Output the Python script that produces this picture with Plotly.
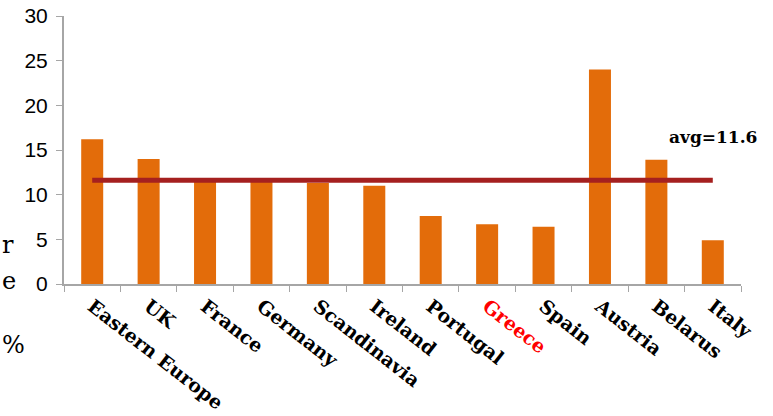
import plotly.graph_objects as go

categories = ["Eastern Europe", "UK", "France", "Germany", "Scandinavia", "Ireland",
              "Portugal", "Greece", "Spain", "Austria", "Belarus", "Italy"]
values = [16.2, 14.0, 11.7, 11.6, 11.3, 11.0, 7.6, 6.7, 6.4, 24.0, 13.9, 4.9]
avg_value = 11.6
avg_label = "avg=11.6"
y_ticks = [0, 5, 10, 15, 20, 25, 30]

ticktext = [f"<span style='color:#FF0000'>{c}</span>" if c == "Greece" else c for c in categories]

W, H = 773, 416
ml, mr, mt, mb = 64, 32, 16, 132
pw = W - ml - mr

fig = go.Figure()
fig.add_trace(go.Bar(x=categories, y=values, width=0.39,
                     marker=dict(color="#E36C0A", line=dict(width=0))))
fig.add_trace(go.Scatter(x=[categories[0], categories[-1]], y=[avg_value, avg_value],
                         mode="lines", line=dict(color="#A5201F", width=5),
                         hoverinfo="skip"))

fig.update_layout(
    width=W, height=H,
    margin=dict(l=ml, r=mr, t=mt, b=mb),
    plot_bgcolor="white", paper_bgcolor="white",
    showlegend=False,
    xaxis=dict(type="category", tickmode="array", tickvals=categories, ticktext=ticktext,
               tickangle=38, tickson="boundaries", ticks="outside", ticklen=6,
               tickcolor="#A6A6A6", showline=True, linecolor="#A6A6A6", linewidth=2,
               tickfont=dict(family="DejaVu Serif", size=19, color="black", weight="bold"),
               ticklabelstandoff=2,
               showgrid=False, range=[-0.5, 11.5], automargin=False),
    yaxis=dict(range=[0, 30], tickvals=y_ticks, ticks="outside", ticklen=6,
               tickcolor="#A6A6A6", showline=True, linecolor="#A6A6A6", linewidth=2,
               tickfont=dict(family="Liberation Sans", size=21, color="black"),
               ticklabelstandoff=4, automargin=False,
               showgrid=False, zeroline=False),
)

fig.add_annotation(x=11, y=16.5, xref="x", yref="y", text=avg_label, showarrow=False,
                   font=dict(family="DejaVu Serif", size=17, color="black", weight="bold"),
                   xanchor="center", yanchor="middle")

# title fragments at the left edge
for txt, py in [("r", 245), ("e", 281), ("%", 345)]:
    fig.add_annotation(x=(0 - ml) / pw, y=1 - (py - mt) / (H - mt - mb), xref="paper", yref="paper",
                       text=txt, showarrow=False, xanchor="left", yanchor="middle",
                       font=dict(family="DejaVu Serif", size=24, color="black"))

fig.write_html("out.html")
